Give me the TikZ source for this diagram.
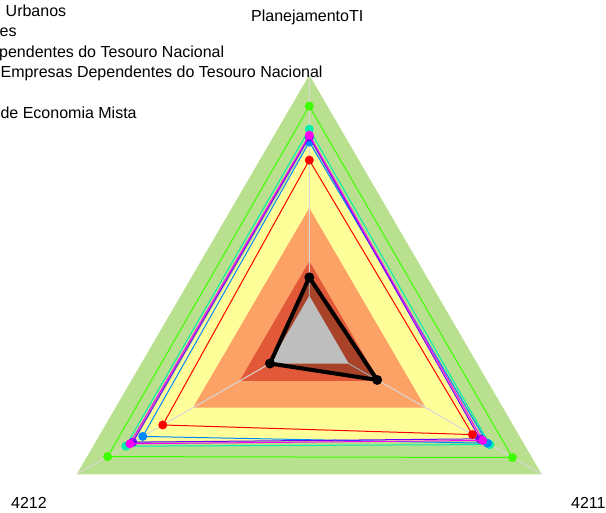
\documentclass[tikz,border=0pt]{standalone}
\usepackage{fontspec}
\setmainfont{Liberation Sans}
\usetikzlibrary{calc}

\definecolor{bandgreen}{RGB}{184,224,142}
\definecolor{bandyellow}{RGB}{255,255,153}
\definecolor{bandorange}{RGB}{252,162,102}
\definecolor{bandred}{RGB}{225,89,56}
\definecolor{bandgray}{RGB}{190,190,190}
\definecolor{axisgray}{RGB}{215,215,215}
\definecolor{sgreen}{RGB}{60,255,0}
\definecolor{steal}{RGB}{0,240,170}
\definecolor{sblue}{RGB}{0,136,255}
\definecolor{spurple}{RGB}{110,0,255}
\definecolor{smagenta}{RGB}{255,0,240}
\definecolor{sred}{RGB}{255,0,0}

\begin{document}
\begin{tikzpicture}[x=1pt,y=-1pt,
    lbl/.style={anchor=base west,inner sep=0pt,font=\fontsize{16}{19}\selectfont},
    series/.style={line width=1pt},
    dot/.style={circle,inner sep=0pt,minimum size=9pt}]
  \useasboundingbox (0,0) rectangle (606,513);
  \coordinate (c) at (309.3,341);
  \coordinate (t) at (309.3,75);
  \coordinate (l) at (76.7,474.3);
  \coordinate (r) at (541.7,474.3);
  % bands
  \foreach \f/\col in {1/bandgreen,0.75/bandyellow,0.5/bandorange,0.3/bandred}
    \fill[\col] ($(c)!\f!(t)$) -- ($(c)!\f!(l)$) -- ($(c)!\f!(r)$) -- cycle;
  \draw[axisgray,line width=1pt] (c) -- (t) (c) -- (l) (c) -- (r);
  \fill[black,opacity=0.25] ($(c)!0.239!(t)$) -- ($(c)!0.169!(l)$) -- ($(c)!0.292!(r)$) -- cycle;
  \fill[bandgray] ($(c)!0.17!(t)$) -- ($(c)!0.17!(l)$) -- ($(c)!0.17!(r)$) -- cycle;
  % series
  \foreach \col/\ft/\fl/\fr in {sgreen/0.883/0.867/0.874,steal/0.796/0.789/0.777,
      sblue/0.748/0.716/0.767,spurple/0.767/0.759/0.734,
      smagenta/0.774/0.771/0.746,sred/0.680/0.630/0.702} {
    \draw[\col,series] ($(c)!\ft!(t)$) coordinate (\col-t)
      -- ($(c)!\fl!(l)$) coordinate (\col-l)
      -- ($(c)!\fr!(r)$) coordinate (\col-r) -- cycle;
    \foreach \v in {t,l,r}
      \node[dot,fill=\col] (\col-\v-dot) at (\col-\v) {};
  }
  \draw[line width=4pt,line join=round] ($(c)!0.239!(t)$) coordinate (k-t)
    -- ($(c)!0.169!(l)$) coordinate (k-l)
    -- ($(c)!0.292!(r)$) coordinate (k-r) -- cycle;
  \foreach \v in {t,l,r}
    \node[dot,fill=black,minimum size=10pt] (k-\v-dot) at (k-\v) {};
  % labels
  \node[lbl] (ptop) at (251,21.7) {PlanejamentoTI};
  \node[lbl] (pleft) at (11,508.3) {4212};
  \node[lbl] (pright) at (571,508.3) {4211};
  % legend (cut at the left edge)
  \node[lbl] (leg1) at (5.5,16.7) {Urbanos};
  \node[lbl] (leg2) at (-0.5,36.7) {es};
  \node[lbl] (leg3) at (-1,58) {pendentes do Tesouro Nacional};
  \node[lbl] (leg4) at (0.4,77.5) {Empresas Dependentes do Tesouro Nacional};
  \node[lbl] (leg5) at (0.4,118.3) {de Economia Mista};
\end{tikzpicture}
\end{document}
